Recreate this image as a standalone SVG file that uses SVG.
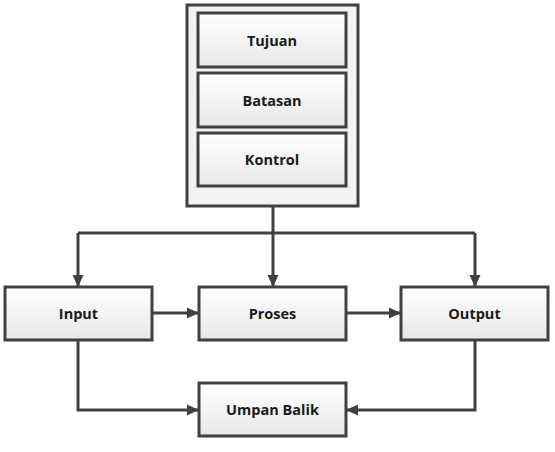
<svg xmlns="http://www.w3.org/2000/svg" width="555" height="452" viewBox="0 0 555 452">
  <style>
    .box { fill: url(#g); stroke: #404040; stroke-width: 3; }
    .outer { fill: #f2f2f2; stroke: #404040; stroke-width: 3; }
    .lbl { font-family: "Open Sans", "Liberation Sans", sans-serif; font-weight: bold; font-size: 14.5px; fill: #1a1a1a; text-anchor: middle; dominant-baseline: central; }
    .c { fill: none; stroke: #404040; stroke-width: 3; }
  </style>
  <defs>
    <linearGradient id="g" x1="0" y1="0" x2="0" y2="1">
      <stop offset="0" stop-color="#ffffff"/>
      <stop offset="1" stop-color="#e8e8e8"/>
    </linearGradient>
    <marker id="a" markerUnits="userSpaceOnUse" markerWidth="14" markerHeight="14" viewBox="0 0 14 14" refX="13" refY="7" orient="auto">
      <path d="M1,1.5 L13,7 L1,12.5 Z" fill="#404040"/>
    </marker>
  </defs>
  <rect width="555" height="452" fill="#ffffff"/>

  <g id="sistem">
    <rect class="outer" x="187" y="5" width="171" height="201"/>
  </g>
  <g id="tujuan">
    <rect class="box" x="198" y="13" width="148" height="54"/>
    <text class="lbl" x="272" y="40">Tujuan</text>
  </g>
  <g id="batasan">
    <rect class="box" x="198" y="73" width="148" height="54"/>
    <text class="lbl" x="272" y="100">Batasan</text>
  </g>
  <g id="kontrol">
    <rect class="box" x="198" y="133" width="148" height="53"/>
    <text class="lbl" x="272" y="159.5">Kontrol</text>
  </g>

  <g id="connectors">
    <path class="c" d="M273,206 V233"/>
    <path class="c" d="M78,233 H475"/>
    <path class="c" d="M78,233 V287" marker-end="url(#a)"/>
    <path class="c" d="M273,233 V287" marker-end="url(#a)"/>
    <path class="c" d="M475,233 V287" marker-end="url(#a)"/>
    <path class="c" d="M152,313 H199" marker-end="url(#a)"/>
    <path class="c" d="M346,313 H401" marker-end="url(#a)"/>
    <path class="c" d="M78,340 V410 H199" marker-end="url(#a)"/>
    <path class="c" d="M475,340 V410 H346" marker-end="url(#a)"/>
  </g>

  <g id="input">
    <rect class="box" x="5" y="287" width="147" height="53"/>
    <text class="lbl" x="78.5" y="313.5">Input</text>
  </g>
  <g id="proses">
    <rect class="box" x="199" y="287" width="147" height="53"/>
    <text class="lbl" x="272.5" y="313.5">Proses</text>
  </g>
  <g id="output">
    <rect class="box" x="401" y="287" width="147" height="53"/>
    <text class="lbl" x="474.5" y="313.5">Output</text>
  </g>
  <g id="umpan-balik">
    <rect class="box" x="199" y="383" width="147" height="53"/>
    <text class="lbl" x="272.5" y="409.5">Umpan Balik</text>
  </g>
</svg>
